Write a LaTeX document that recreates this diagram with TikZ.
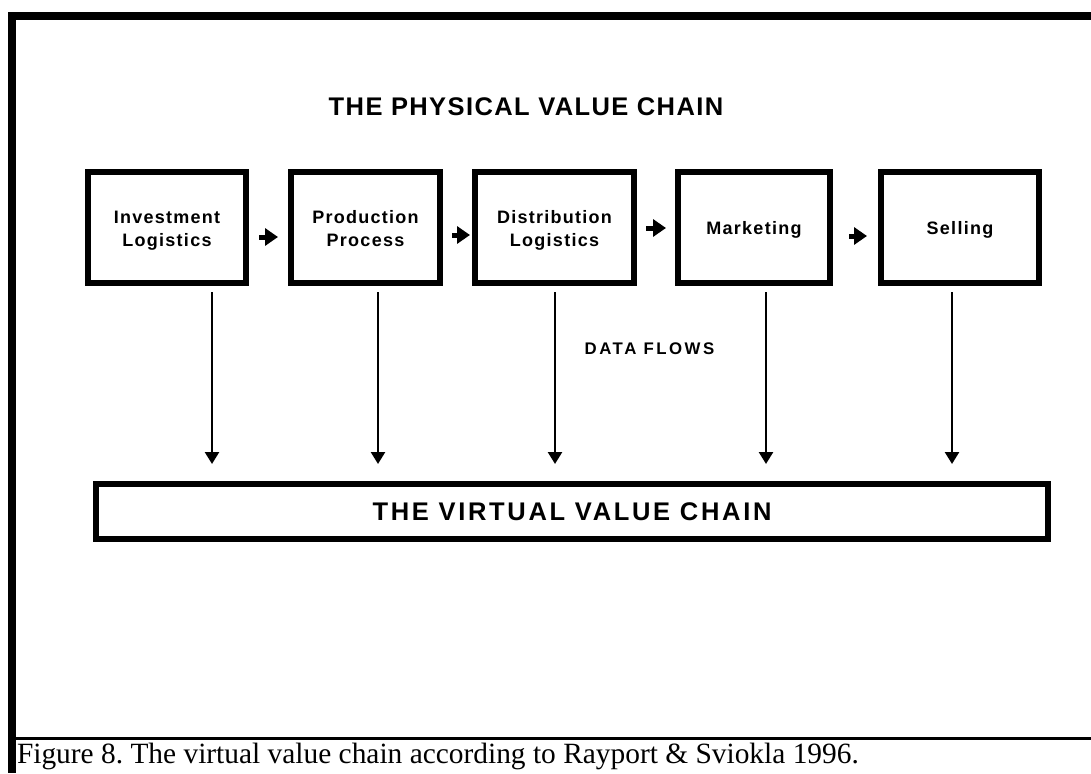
\documentclass[tikz,border=0pt]{standalone}
\usepackage{fontspec}
\setmainfont{Liberation Serif}
\newfontfamily\titlefont[LetterSpace=5.5]{Liberation Sans}
\newfontfamily\virtfont[LetterSpace=10.5]{Liberation Sans}
\newfontfamily\boxfont[LetterSpace=7]{Liberation Sans}
\newfontfamily\flowfont[LetterSpace=15]{Liberation Sans}
\usetikzlibrary{arrows.meta}
\newcommand\topstrut{\rule{0pt}{18pt}}
\tikzset{
  stagebox/.style={draw, line width=6pt, minimum height=111pt, inner sep=0pt,
    align=center, font=\boxfont\bfseries\fontsize{18}{23}\selectfont},
  chainarrow/.style={line width=5pt, -{Triangle[width=17pt,length=13pt]}},
  flowarrow/.style={line width=2.5pt, -{Triangle[width=14pt,length=12pt]}},
  plain/.style={inner sep=0pt, outer sep=0pt},
}
\begin{document}
\begin{tikzpicture}[x=1pt,y=-1pt]
\useasboundingbox (0,0) rectangle (1091,773);
% frame
\fill (8,12) rectangle (1091,20);
\fill (8,12) rectangle (16,773);
\fill (16,737) rectangle (1091,739.5);

% heading
\node[plain, font=\titlefont\bfseries\fontsize{25.5}{30}\selectfont] (title) at (526,106.5) {THE PHYSICAL VALUE CHAIN};

% physical value chain
\node[stagebox, minimum width=158pt] (inv)  at (167,227.5)   {\topstrut Investment\\Logistics\vphantom{Ag}};
\node[stagebox, minimum width=149pt] (prod) at (365.5,227.5) {\topstrut Production\\Process\vphantom{Ag}};
\node[stagebox, minimum width=159pt] (dist) at (554.5,227.5) {\topstrut Distribution\\Logistics\vphantom{Ag}};
\node[stagebox, minimum width=152pt] (mkt)  at (754,227.5)   {\topstrut Marketing};
\node[stagebox, minimum width=158pt] (sell) at (960,227.5)   {\topstrut Selling};

\draw[chainarrow, shorten <=10pt, shorten >=10pt] ([yshift=-9.5pt]inv.east) -- ([yshift=-9.5pt]prod.west);
\draw[chainarrow, shorten <=9pt, shorten >=2pt] ([yshift=-7.5pt]prod.east) -- ([yshift=-7.5pt]dist.west);
\draw[chainarrow, shorten <=9pt, shorten >=9pt] ([yshift=-0.5pt]dist.east) -- ([yshift=-0.5pt]mkt.west);
\draw[chainarrow, shorten <=16pt, shorten >=11pt] ([yshift=-8.5pt]mkt.east) -- ([yshift=-8.5pt]sell.west);

% virtual value chain
\node[draw, line width=6pt, minimum width=952pt, minimum height=55pt, inner sep=0pt,
  font=\virtfont\bfseries\fontsize{25.5}{30}\selectfont] (virt) at (572,511.5) {THE VIRTUAL VALUE CHAIN};

\node[plain, font=\flowfont\bfseries\fontsize{16.8}{20}\selectfont] (flows) at (649.5,349) {DATA FLOWS};

% data flows
\coordinate (s1) at ([xshift=45pt,yshift=-6pt]inv.south);
\coordinate (s2) at ([xshift=12.5pt,yshift=-6pt]prod.south);
\coordinate (s3) at ([xshift=0.5pt,yshift=-6pt]dist.south);
\coordinate (s4) at ([xshift=12pt,yshift=-6pt]mkt.south);
\coordinate (s5) at ([xshift=-8pt,yshift=-6pt]sell.south);
\foreach \i in {1,...,5}{
  \draw[flowarrow, shorten >=17pt] (s\i) -- (s\i |- virt.north);
}

% caption
\node[plain, anchor=base west, font=\fontsize{29.4}{34}\selectfont] (caption) at (17,763.5)
  {\frenchspacing Figure 8. The virtual value chain according to Rayport \& Sviokla 1996.};
\end{tikzpicture}
\end{document}
